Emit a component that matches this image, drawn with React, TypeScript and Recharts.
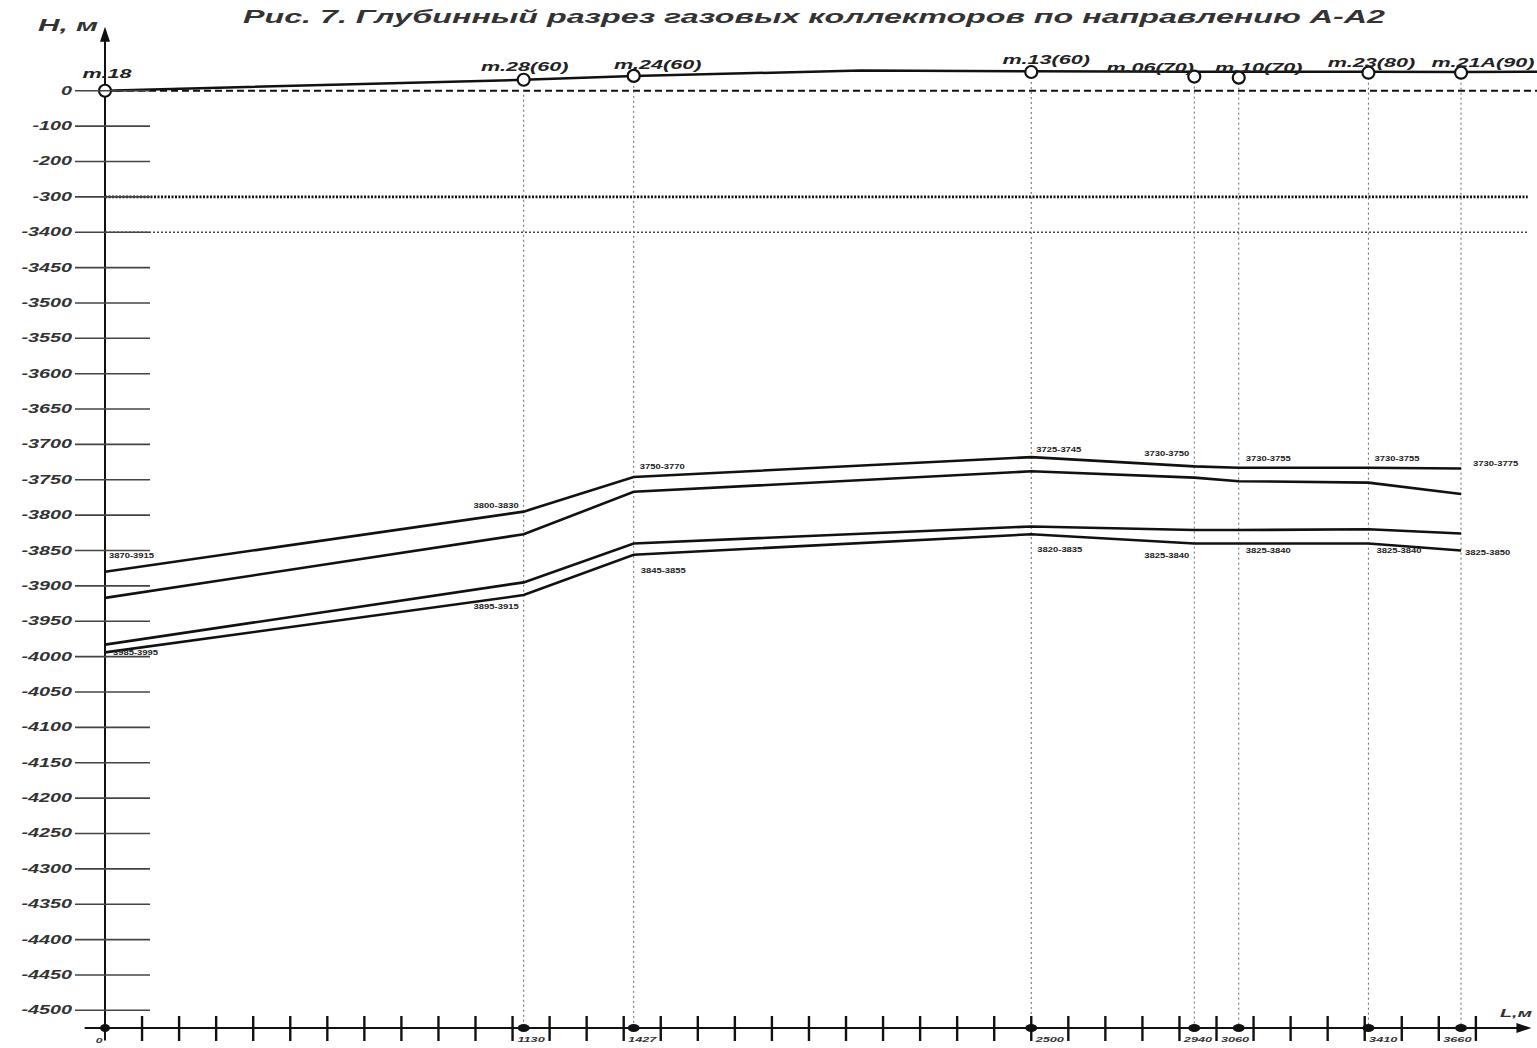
import {
  ComposedChart,
  Line,
  XAxis,
  YAxis,
  ReferenceLine,
  ReferenceDot,
} from "recharts";

// wells along the section A-A2
const WELL_NAMES = ["т.18", "т.28(60)", "т.24(60)", "т.13(60)", "т.06(70)", "т.10(70)", "т.23(80)", "т.21А(90)"];
const WELL_L = [0, 1130, 1427, 2500, 2940, 3060, 3410, 3660];
const WELL_ELEV = [0, 31, 42, 53, 40, 37, 51, 51];

// ground surface profile
const SURFACE_L = [0, 1130, 1427, 2040, 2500, 2940, 3060, 3410, 3660, 3865];
const SURFACE_ELEV = [0, 31, 42, 57, 55, 54, 54, 54, 53, 54];

// collector boundaries, m (absolute depth, negative)
const UPPER_TOP = [-3880, -3795, -3746, -3718, -3731, -3733, -3733, -3734];
const UPPER_BOT = [-3917, -3827, -3767, -3738, -3747, -3752, -3754, -3770];
const LOWER_TOP = [-3983, -3895, -3840, -3816, -3821, -3821, -3820, -3826];
const LOWER_BOT = [-3994, -3913, -3856, -3827, -3840, -3840, -3840, -3850];

const UPPER_LABELS = ["3870-3915", "3800-3830", "3750-3770", "3725-3745", "3730-3750", "3730-3755", "3730-3755", "3730-3775"];
const LOWER_LABELS = ["3985-3995", "3895-3915", "3845-3855", "3820-3835", "3825-3840", "3825-3840", "3825-3840", "3825-3850"];

const Y_TICK_VALUES = [
  0, -100, -200, -300, -3400, -3450, -3500, -3550, -3600, -3650, -3700, -3750, -3800, -3850,
  -3900, -3950, -4000, -4050, -4100, -4150, -4200, -4250, -4300, -4350, -4400, -4450, -4500,
];

const TITLE = "Рис. 7. Глубинный разрез газовых коллекторов по направлению А-А2";

// label placement (styling only)
const TOP_SIDE = ["start", "end", "start", "start", "end", "start", "start", "start"];
const TOP_DX = [4, -5, 6, 5, -5, 7, 6, 12];
const TOP_DY = [-14, -4, -8, -5, -10, -7, -7, -2];
const BOT_SIDE = ["start", "end", "start", "start", "end", "start", "start", "start"];
const BOT_DX = [8, -5, 7, 6, -5, 7, 8, 4];
const BOT_DY = [3, 14, 18, 18, 15, 10, 10, 4];
const NAME_DX = [2, 1, 24, 15, -44, 20, 3, 22];
const NAME_DY = [-13, -9, -7, -8, -5, -6, -6, -6];

const W = 1537;
const H = 1048;
const X_MAX = 3865;
const U_MAX = 2;
const U_MIN = -26.5;
const PLOT_LEFT = 105;
const PX_PER_M = (W - PLOT_LEFT) / X_MAX;

// broken vertical scale: 100 m per step above -300, 50 m per step below -3400
function toU(h: number) {
  if (h >= -300) return h / 100;
  return -4 + (h + 3400) / 50;
}

const Y_TICKS = Y_TICK_VALUES.map(toU);
const HUNDREDS = Array.from({ length: 37 }, (_, i) => (i + 1) * 100);
const X_TICKS = [...HUNDREDS, ...WELL_L];

const horizonData = WELL_L.map((L, i) => ({
  L,
  a: toU(UPPER_TOP[i]),
  b: toU(UPPER_BOT[i]),
  c: toU(LOWER_TOP[i]),
  d: toU(LOWER_BOT[i]),
}));

const surfaceData = SURFACE_L.map((L, i) => ({ L, u: toU(SURFACE_ELEV[i]) }));

const FONT = "'Liberation Sans', Arial, sans-serif";
const INK = "#111";

function YTick(props: any) {
  const { y, payload } = props;
  const i = Y_TICKS.findIndex((t) => Math.abs(t - payload.value) < 1e-6);
  const label = i >= 0 ? String(Y_TICK_VALUES[i]) : "";
  return (
    <g>
      <line x1={75} x2={150} y1={y} y2={y} stroke="#444" strokeWidth={1.6} />
      <text
        transform={`translate(72, ${y + 4}) scale(1.65, 1)`}
        textAnchor="end"
        fontFamily={FONT}
        fontSize={12}
        fontStyle="italic"
        fontWeight="bold"
        fill="#333"
      >
        {label}
      </text>
    </g>
  );
}

function XTick(props: any) {
  const { x, y, payload } = props;
  const v = payload.value as number;
  const wi = WELL_L.indexOf(v);
  const isWellTick = wi >= 0 && props.index >= HUNDREDS.length;
  if (!isWellTick) {
    return <line x1={x} x2={x} y1={y - 12} y2={y + 13} stroke={INK} strokeWidth={2.4} />;
  }
  if (v === 0) {
    return (
      <g>
        <ellipse cx={x} cy={y} rx={5} ry={4} fill={INK} />
        <text
          transform={`translate(${x - 6}, ${y + 15}) scale(1.5, 1)`}
          textAnchor="middle"
          fontFamily={FONT}
          fontSize={8}
          fontStyle="italic"
          fontWeight="bold"
          fill="#333"
        >
          0
        </text>
      </g>
    );
  }
  const cx = x + (Math.floor(v / 100) * 100 + 50 - v) * PX_PER_M;
  return (
    <g>
      <ellipse cx={x} cy={y} rx={6} ry={4} fill={INK} />
      <text
        transform={`translate(${cx}, ${y + 14}) scale(1.7, 1)`}
        textAnchor="middle"
        fontFamily={FONT}
        fontSize={7.5}
        fontStyle="italic"
        fontWeight="bold"
        fill="#333"
      >
        {v}
      </text>
    </g>
  );
}

function horizonLabel(labels: string[], side: string[], dx: number[], dy: number[]) {
  return (props: any) => {
    const { cx, cy, index } = props;
    if (cx == null || cy == null) return <g key={`n-${index}`} />;
    return (
      <text
        key={`l-${index}`}
        transform={`translate(${cx + dx[index]}, ${cy + dy[index]}) scale(1.35, 1)`}
        textAnchor={side[index] as any}
        fontFamily={FONT}
        fontSize={7}
        fontWeight="bold"
        fill="#222"
      >
        {labels[index]}
      </text>
    );
  };
}

function wellShape(i: number) {
  return (props: any) => {
    const { cx, cy } = props;
    return (
      <g>
        <circle cx={cx} cy={cy} r={6} fill="#fff" stroke={INK} strokeWidth={2.2} />
        <text
          transform={`translate(${cx + NAME_DX[i]}, ${cy + NAME_DY[i]}) scale(1.8, 1)`}
          textAnchor="middle"
          fontFamily={FONT}
          fontSize={12}
          fontStyle="italic"
          fontWeight="bold"
          fill="#222"
        >
          {WELL_NAMES[i]}
        </text>
      </g>
    );
  };
}

function arrowUp(props: any) {
  const { cx, cy } = props;
  return <path d={`M${cx},${cy} L${cx - 5},${cy + 15} L${cx + 5},${cy + 15} Z`} fill={INK} />;
}

function arrowRight(props: any) {
  const { cx, cy } = props;
  return <path d={`M${cx},${cy} L${cx - 15},${cy - 5} L${cx - 15},${cy + 5} Z`} fill={INK} />;
}

export default function App() {
  return (
    <div style={{ position: "absolute", left: 0, top: 0, width: W, height: H, background: "#fff" }}>
      <ComposedChart
        width={W}
        height={H}
        data={horizonData}
        margin={{ top: 20, right: 0, bottom: 0, left: 45 }}
      >
        <XAxis
          dataKey="L"
          type="number"
          domain={[0, X_MAX]}
          allowDataOverflow
          ticks={X_TICKS}
          interval={0}
          tick={XTick}
          tickLine={false}
          tickSize={0}
          tickMargin={0}
          axisLine={false}
          height={20}
        />
        <YAxis
          type="number"
          domain={[U_MIN, U_MAX]}
          allowDataOverflow
          ticks={Y_TICKS}
          interval={0}
          tick={YTick}
          tickLine={false}
          axisLine={false}
          width={60}
        />

        {/* axes drawn as segments so they can run past the plot edge */}
        <ReferenceLine
          segment={[{ x: 0, y: 1.7 }, { x: 0, y: -26.85 }]}
          stroke={INK}
          strokeWidth={2}
          ifOverflow="visible"
        />
        <ReferenceLine
          segment={[{ x: -55, y: U_MIN }, { x: 3830, y: U_MIN }]}
          stroke={INK}
          strokeWidth={2}
          ifOverflow="visible"
        />
        <ReferenceDot x={0} y={1.81} shape={arrowUp} ifOverflow="visible" />
        <ReferenceDot x={3850} y={U_MIN} shape={arrowRight} ifOverflow="visible" />

        <ReferenceLine
          segment={[{ x: 0, y: 0 }, { x: X_MAX, y: 0 }]}
          stroke={INK}
          strokeWidth={2}
          strokeDasharray="7 4"
          ifOverflow="visible"
        />
        <ReferenceLine
          segment={[{ x: 0, y: toU(-300) }, { x: 3840, y: toU(-300) }]}
          stroke={INK}
          strokeWidth={2.6}
          strokeDasharray="2 1.5"
          ifOverflow="visible"
        />
        <ReferenceLine
          segment={[{ x: 0, y: toU(-3400) }, { x: 3840, y: toU(-3400) }]}
          stroke="#444"
          strokeWidth={1.6}
          strokeDasharray="2 2"
          ifOverflow="visible"
        />

        {WELL_L.slice(1).map((L, k) => (
          <ReferenceLine
            key={`v-${L}`}
            segment={[{ x: L, y: toU(WELL_ELEV[k + 1]) }, { x: L, y: U_MIN }]}
            stroke="#666"
            strokeWidth={1}
            strokeDasharray="2 3"
            ifOverflow="visible"
          />
        ))}

        <Line
          data={surfaceData}
          dataKey="u"
          stroke={INK}
          strokeWidth={2.5}
          dot={false}
          activeDot={false}
          isAnimationActive={false}
        />
        <Line
          dataKey="a"
          stroke={INK}
          strokeWidth={2.6}
          dot={horizonLabel(UPPER_LABELS, TOP_SIDE, TOP_DX, TOP_DY)}
          activeDot={false}
          isAnimationActive={false}
        />
        <Line dataKey="b" stroke={INK} strokeWidth={2.6} dot={false} activeDot={false} isAnimationActive={false} />
        <Line dataKey="c" stroke={INK} strokeWidth={2.6} dot={false} activeDot={false} isAnimationActive={false} />
        <Line
          dataKey="d"
          stroke={INK}
          strokeWidth={2.6}
          dot={horizonLabel(LOWER_LABELS, BOT_SIDE, BOT_DX, BOT_DY)}
          activeDot={false}
          isAnimationActive={false}
        />

        {WELL_L.map((L, i) => (
          <ReferenceDot key={`w-${L}`} x={L} y={toU(WELL_ELEV[i])} shape={wellShape(i)} ifOverflow="visible" />
        ))}
      </ComposedChart>

      <svg
        width={W}
        height={H}
        style={{ position: "absolute", left: 0, top: 0, pointerEvents: "none" }}
      >
        <text
          x={243}
          y={23}
          textLength={1142}
          lengthAdjust="spacingAndGlyphs"
          fontFamily={FONT}
          fontSize={18}
          fontStyle="italic"
          fontWeight="bold"
          fill="#333"
        >
          {TITLE}
        </text>
        <text
          x={38}
          y={31}
          textLength={60}
          lengthAdjust="spacingAndGlyphs"
          fontFamily={FONT}
          fontSize={16}
          fontStyle="italic"
          fontWeight="bold"
          fill="#333"
        >
          H, м
        </text>
        <text
          x={1500}
          y={1017}
          textLength={32}
          lengthAdjust="spacingAndGlyphs"
          fontFamily={FONT}
          fontSize={11}
          fontStyle="italic"
          fontWeight="bold"
          fill="#333"
        >
          L,м
        </text>
      </svg>
    </div>
  );
}
